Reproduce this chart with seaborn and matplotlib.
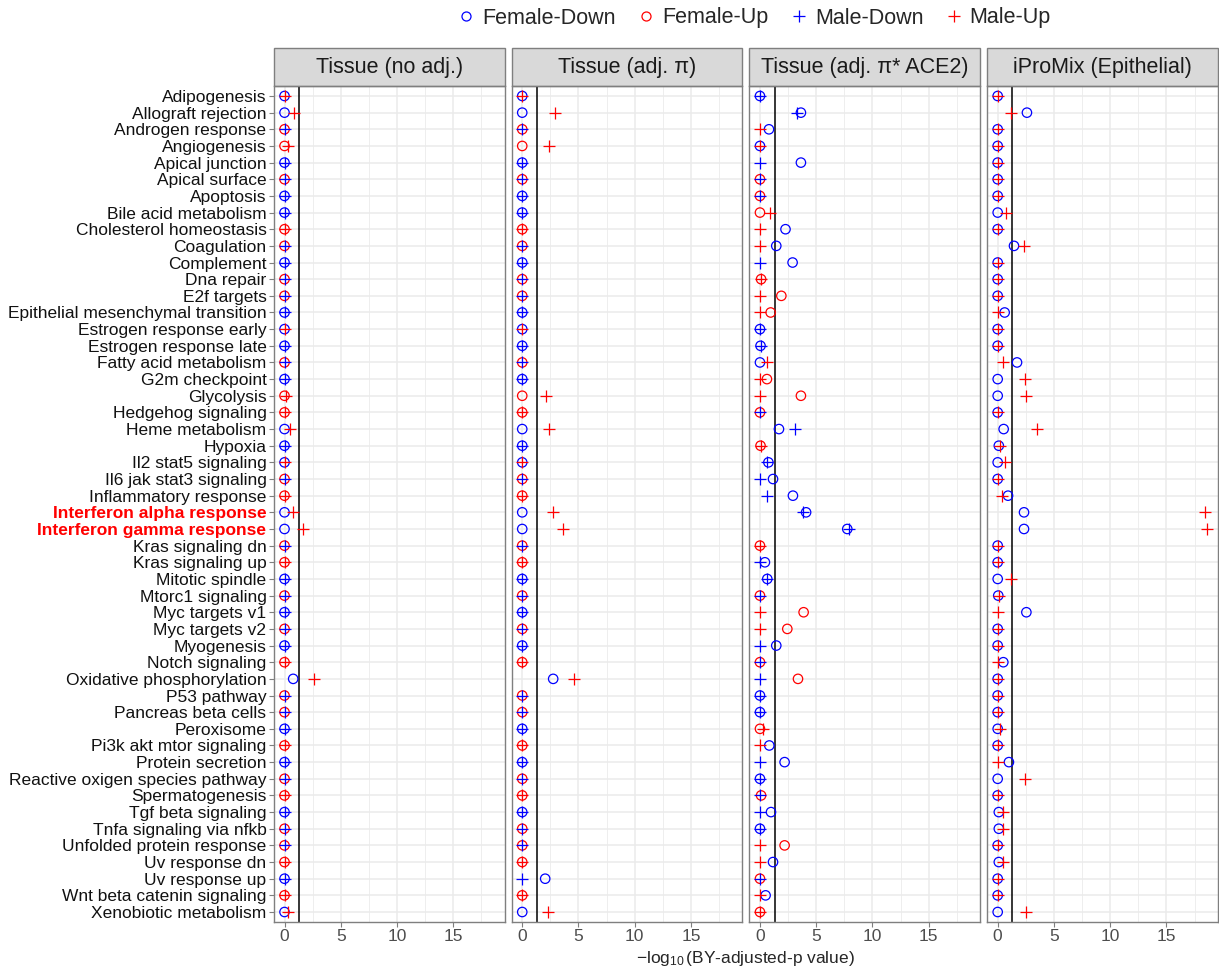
import numpy as np
import pandas as pd
import seaborn as sns
import matplotlib.pyplot as plt
from matplotlib.lines import Line2D
from matplotlib.markers import MarkerStyle
from matplotlib.patches import Rectangle

pathways = [
    'Adipogenesis', 'Allograft rejection', 'Androgen response', 'Angiogenesis',
    'Apical junction', 'Apical surface', 'Apoptosis', 'Bile acid metabolism',
    'Cholesterol homeostasis', 'Coagulation', 'Complement', 'Dna repair',
    'E2f targets', 'Epithelial mesenchymal transition', 'Estrogen response early',
    'Estrogen response late', 'Fatty acid metabolism', 'G2m checkpoint',
    'Glycolysis', 'Hedgehog signaling', 'Heme metabolism', 'Hypoxia',
    'Il2 stat5 signaling', 'Il6 jak stat3 signaling', 'Inflammatory response',
    'Interferon alpha response', 'Interferon gamma response', 'Kras signaling dn',
    'Kras signaling up', 'Mitotic spindle', 'Mtorc1 signaling', 'Myc targets v1',
    'Myc targets v2', 'Myogenesis', 'Notch signaling', 'Oxidative phosphorylation',
    'P53 pathway', 'Pancreas beta cells', 'Peroxisome', 'Pi3k akt mtor signaling',
    'Protein secretion', 'Reactive oxigen species pathway', 'Spermatogenesis',
    'Tgf beta signaling', 'Tnfa signaling via nfkb', 'Unfolded protein response',
    'Uv response dn', 'Uv response up', 'Wnt beta catenin signaling',
    'Xenobiotic metabolism',
]
highlighted = ['Interferon alpha response', 'Interferon gamma response']

panels = ['Tissue (no adj.)', 'Tissue (adj. \u03c0)', 'Tissue (adj. \u03c0* ACE2)',
          'iProMix (Epithelial)']

# -log10(BY-adjusted p) per pathway, female / male, plus direction (D=Down, U=Up)
fem_noadj = [0, 0, 0, 0, 0, 0, 0, 0, 0, 0,
             0, 0, 0, 0, 0, 0, 0, 0, 0, 0,
             0, 0, 0, 0, 0, 0, 0, 0, 0, 0,
             0, 0, 0, 0, 0, 0.77, 0, 0, 0, 0,
             0, 0, 0, 0, 0, 0, 0, 0, 0, 0]
male_noadj = [0, 0.85, 0, 0.3, 0, 0, 0, 0, 0, 0,
              0, 0, 0, 0, 0, 0, 0, 0, 0.15, 0,
              0.45, 0, 0, 0, 0, 0.77, 1.66, 0, 0, 0,
              0, 0, 0, 0, 0, 2.6, 0, 0, 0, 0,
              0, 0, 0, 0, 0, 0, 0, 0, 0, 0.3]
fem_pi = [0, 0, 0, 0, 0, 0, 0, 0, 0, 0,
          0, 0, 0, 0, 0, 0, 0, 0, 0, 0,
          0, 0, 0, 0, 0, 0, 0, 0, 0, 0,
          0, 0, 0, 0, 0, 2.75, 0, 0, 0, 0,
          0, 0, 0, 0, 0, 0, 0, 2.04, 0, 0]
male_pi = [0, 2.87, 0, 2.34, 0, 0, 0, 0, 0, 0,
           0, 0, 0, 0, 0, 0, 0, 0, 2.1, 0,
           2.34, 0, 0, 0, 0, 2.72, 3.58, 0, 0, 0,
           0, 0, 0, 0, 0, 4.59, 0, 0, 0, 0,
           0, 0, 0, 0, 0, 0, 0, 0, 0, 2.28]
fem_tissue_dir = 'DDUUDUDDUU' 'DUUDDDUDUU' 'DDDUUDDUUD' 'UDUDUDUUDU' 'DUUDUUUDUD'
male_tissue_dir = 'UUDUDDDDUD' 'DDDDUDDDUU' 'UDUDUUUDUD' 'DDDDUUDDDU' 'DDUDDDUDUU'

fem_ace2 = [0, 3.64, 0.8, 0, 3.64, 0, 0, 0, 2.27, 1.45,
            2.9, 0.1, 1.9, 0.95, 0, 0.05, 0, 0.62, 3.64, 0,
            1.69, 0.05, 0.75, 1.16, 2.93, 4.1, 7.76, 0, 0.44, 0.65,
            0, 3.88, 2.43, 1.45, 0, 3.38, 0, 0, 0, 0.83,
            2.19, 0, 0.1, 0.98, 0, 2.19, 1.16, 0, 0.5, 0]
male_ace2 = [0, 3.26, 0, 0, 0, 0, 0, 0.9, 0, 0,
             0, 0.05, 0, 0, 0, 0.05, 0.62, 0, 0, 0,
             3.14, 0.05, 0.65, 0, 0.65, 3.85, 7.9, 0, 0, 0.65,
             0, 0, 0, 0, 0, 0, 0, 0, 0.3, 0,
             0, 0, 0, 0, 0, 0, 0, 0, 0, 0]
fem_ace2_dir = 'DDDDDUUUDD' 'DUUUDDDUUU' 'DUDDDDDUDD' 'UUUDUUDDUD' 'DDUDDUDUDU'
male_ace2_dir = 'DDUUDDDUUU' 'DUUUDDUUUD' 'DUDDDDDUDD' 'DUUDDDDDUU' 'DDDDDUUDUU'

fem_ipro = [0, 2.6, 0, 0, 0, 0, 0, 0, 0, 1.45,
            0, 0, 0, 0.62, 0, 0, 1.72, 0, 0, 0,
            0.53, 0.1, 0, 0, 0.92, 2.34, 2.34, 0, 0, 0,
            0.05, 2.55, 0, 0, 0.5, 0, 0, 0, 0, 0,
            1.0, 0, 0, 0.1, 0.1, 0, 0.1, 0, 0, 0]
male_ipro = [0, 1.2, 0, 0, 0, 0, 0, 0.77, 0, 2.3,
             0, 0, 0, 0, 0, 0, 0.47, 2.4, 2.52, 0,
             3.5, 0.25, 0.68, 0, 0.39, 18.45, 18.63, 0, 0, 1.15,
             0.1, 0, 0, 0, 0, 0, 0, 0, 0.25, 0,
             0, 2.4, 0, 0.5, 0.5, 0, 0.45, 0, 0, 2.52]
fem_ipro_dir = 'D' * 50
male_ipro_dir = 'U' * 50

panel_data = {
    panels[0]: (fem_noadj, fem_tissue_dir, male_noadj, male_tissue_dir),
    panels[1]: (fem_pi, fem_tissue_dir, male_pi, male_tissue_dir),
    panels[2]: (fem_ace2, fem_ace2_dir, male_ace2, male_ace2_dir),
    panels[3]: (fem_ipro, fem_ipro_dir, male_ipro, male_ipro_dir),
}

dir_name = {'D': 'Down', 'U': 'Up'}
records = []
for panel, (fv, fd, mv, md) in panel_data.items():
    for sex, vals, dirs in [('Female', fv, fd), ('Male', mv, md)]:
        for pw, v, d in zip(pathways, vals, dirs):
            records.append((panel, pw, f'{sex}-{dir_name[d]}', v))
df = pd.DataFrame(records, columns=['panel', 'pathway', 'group', 'value'])
df['row'] = pd.Categorical(df['pathway'], categories=pathways).codes

groups = ['Female-Down', 'Female-Up', 'Male-Down', 'Male-Up']
colors = {'Female-Down': 'blue', 'Female-Up': 'red', 'Male-Down': 'blue', 'Male-Up': 'red'}
hollow = MarkerStyle('o', fillstyle='none')
markers = {'Female-Down': hollow, 'Female-Up': hollow, 'Male-Down': '+', 'Male-Up': '+'}
sizes = {'Female-Down': 46, 'Female-Up': 46, 'Male-Down': 84, 'Male-Up': 84}

sns.set_style('white')
plt.rcParams['font.family'] = ['Liberation Sans', 'DejaVu Sans']
plt.rcParams['mathtext.fontset'] = 'custom'
plt.rcParams['mathtext.rm'] = 'Liberation Sans'
plt.rcParams['mathtext.it'] = 'Liberation Sans:italic'

left, right, top, bottom = 0.2248, 0.999, 1 - 86 / 969, 1 - 922 / 969

g = sns.FacetGrid(df, col='panel', col_order=panels, sharex=True, sharey=True,
                  despine=False, height=9.69, aspect=0.3)
g.figure.set_size_inches(12.19, 9.69)
g.figure.subplots_adjust(left=left, right=right, top=top, bottom=bottom, wspace=0.031)
g.set_titles('')
g.set_axis_labels('', '')

xmax = df['value'].max()
strip_h = 38 / 836
border = '#7F7F7F'

for i, (panel, ax) in enumerate(g.axes_dict.items()):
    sub = df[df['panel'] == panel]
    for grp in groups:
        d = sub[sub['group'] == grp]
        sns.scatterplot(data=d, x='value', y='row', color=colors[grp], marker=markers[grp],
                        s=sizes[grp], linewidth=0.9, legend=False, ax=ax, zorder=3)
    ax.axvline(-np.log10(0.05), color='black', lw=1.1, zorder=2)
    ax.set_xlim(-0.05 * xmax, 1.05 * xmax)
    ax.set_ylim(len(pathways) - 0.4, -0.6)
    ax.set_xticks([0, 5, 10, 15])
    ax.set_xticks([2.5, 7.5, 12.5, 17.5], minor=True)
    ax.set_yticks(range(len(pathways)))
    ax.grid(which='major', color='#EBEBEB', lw=1.1)
    ax.grid(which='minor', axis='x', color='#EBEBEB', lw=0.6)
    ax.set_axisbelow(True)
    ax.set_xlabel('')
    ax.set_ylabel('')
    for sp in ax.spines.values():
        sp.set_color(border)
        sp.set_linewidth(1.0)
    ax.tick_params(axis='x', which='major', bottom=True, length=3.5, width=0.8,
                   color=border, labelsize=12.5, labelcolor='#4D4D4D', pad=1.5)
    ax.tick_params(axis='x', which='minor', bottom=False)
    if i == 0:
        ax.set_yticklabels(pathways)
        ax.tick_params(axis='y', left=True, length=3.5, width=0.8, color=border,
                       labelsize=12.5, labelcolor='#111111', pad=2)
        for lab in ax.get_yticklabels():
            if lab.get_text() in highlighted:
                lab.set_color('red')
                lab.set_fontweight('bold')
    else:
        ax.tick_params(axis='y', left=False, labelleft=False)
    ax.add_patch(Rectangle((0, 1), 1, strip_h, transform=ax.transAxes, clip_on=False,
                           facecolor='#D9D9D9', edgecolor=border, lw=1.0))
    ax.text(0.5, 1 + strip_h / 2, panel, transform=ax.transAxes, ha='center',
            va='center', fontsize=15.5, color='#1A1A1A')

g.figure.text((left + right) / 2, 1 - 958 / 969, r'$-\log_{10}$(BY-adjusted-p value)',
              ha='center', va='center', fontsize=12.5)

handles = []
for grp in groups:
    if markers[grp] == '+':
        handles.append(Line2D([], [], ls='', marker='+', color=colors[grp], ms=9, mew=0.9))
    else:
        handles.append(Line2D([], [], ls='', marker='o', mfc='none', mec=colors[grp],
                              ms=6.5, mew=0.9))
g.figure.legend(handles, groups, loc='center', bbox_to_anchor=(0.618, 1 - 18 / 969),
                ncol=4, frameon=False, fontsize=15.5, handletextpad=0.25,
                columnspacing=0.9, handlelength=1.0)

g.figure.savefig('out.png', dpi=100)
